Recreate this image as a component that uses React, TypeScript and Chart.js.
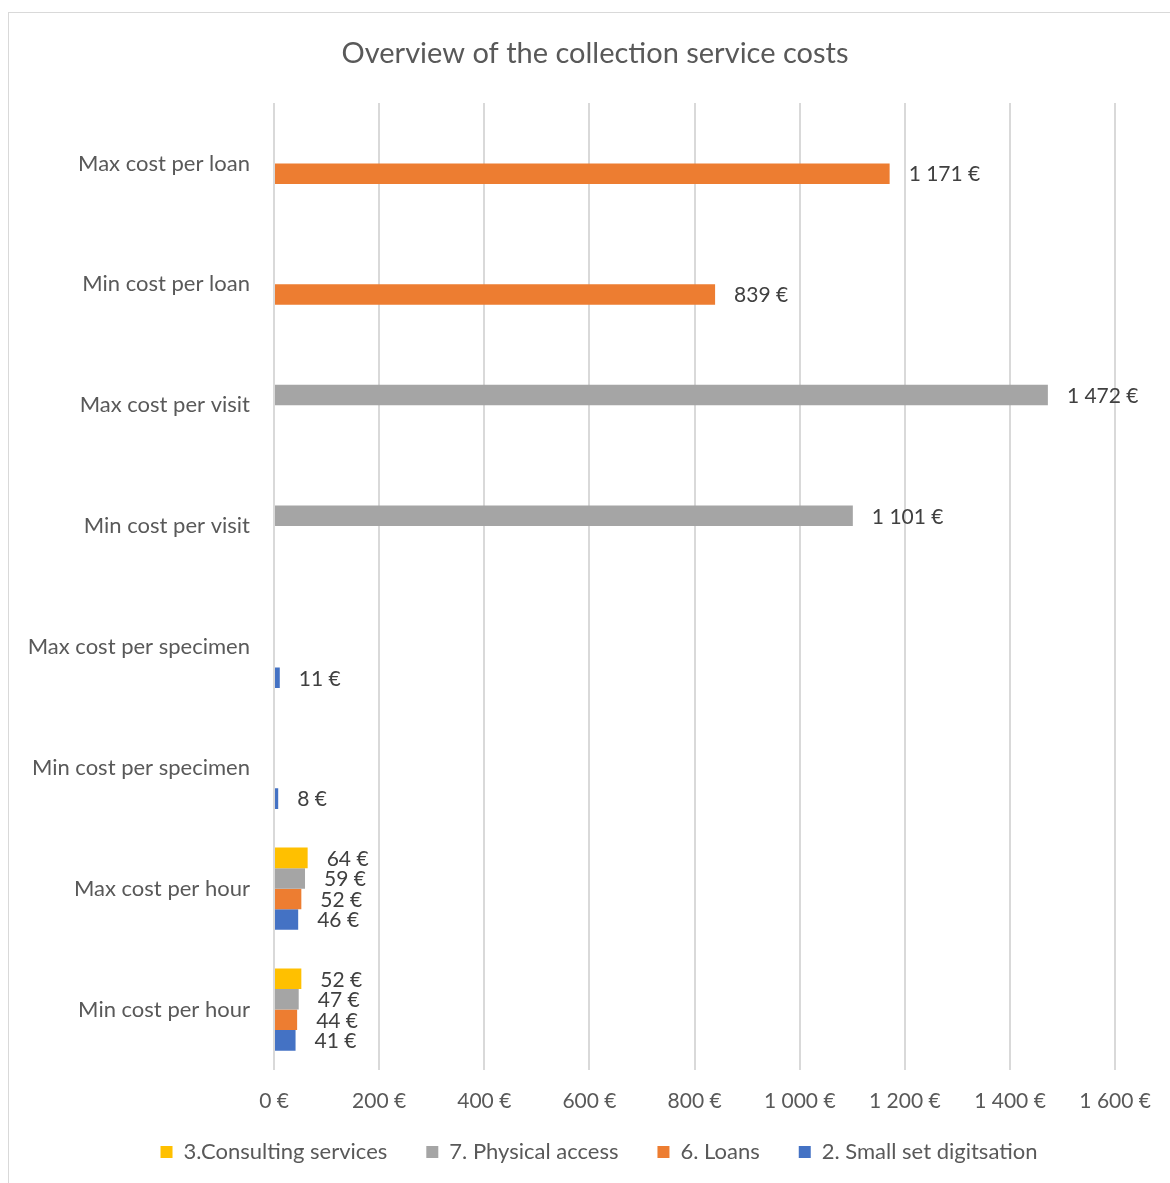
import React, { useEffect, useRef } from "react";
import { Chart, registerables } from "chart.js";

Chart.register(...registerables);

const chartTitle = "Overview of the collection service costs";
const categories = [
  "Max cost per loan",
  "Min cost per loan",
  "Max cost per visit",
  "Min cost per visit",
  "Max cost per specimen",
  "Min cost per specimen",
  "Max cost per hour",
  "Min cost per hour",
];
const seriesNames = [
  "3.Consulting services",
  "7. Physical access",
  "6. Loans",
  "2. Small set digitsation",
];
const seriesColors = ["#FFC000", "#A5A5A5", "#ED7D31", "#4472C4"];
const consultingValues = [null, null, null, null, null, null, 64, 52];
const physicalValues = [null, null, 1472, 1101, null, null, 59, 47];
const loansValues = [1171, 839, null, null, null, null, 52, 44];
const smallSetValues = [null, null, null, null, 11, 8, 46, 41];
const xMin = 0;
const xMax = 1600;
const xStep = 200;

const FONT = "Lato, 'Open Sans', sans-serif";
const LEGEND_PAD = 39;
const LEGEND_FONT = 22;

function fmtEuro(v: number): string {
  return String(v).replace(/\B(?=(\d{3})+(?!\d))/g, " ") + " €";
}

const decorPlugin = {
  id: "decor",
  afterLayout(chart: any) {
    const lg = chart.legend;
    if (lg) {
      const h = lg.bottom - lg.top;
      const newTop = 1152 - LEGEND_PAD - LEGEND_FONT / 2;
      lg.top = newTop;
      lg.bottom = newTop + h;
      lg.left += 41;
      lg.right += 41;
    }
  },
  beforeDraw(chart: any) {
    const ctx = chart.ctx;
    ctx.save();
    ctx.fillStyle = "#ffffff";
    ctx.fillRect(0, 0, chart.width, chart.height);
    ctx.strokeStyle = "#d9d9d9";
    ctx.lineWidth = 1;
    ctx.strokeRect(8.5, 12.5, chart.width + 20, chart.height + 20);
    ctx.restore();
  },
  afterDraw(chart: any) {
    const ctx = chart.ctx;
    ctx.save();
    ctx.font = `29px ${FONT}`;
    ctx.fillStyle = "#595959";
    ctx.textAlign = "center";
    ctx.textBaseline = "middle";
    ctx.fillText(chartTitle, 595, 54);
    ctx.restore();
  },
};

const labelPlugin = {
  id: "barLabels",
  afterDatasetsDraw(chart: any) {
    const ctx = chart.ctx;
    ctx.save();
    ctx.font = `21px ${FONT}`;
    ctx.fillStyle = "#404040";
    ctx.textAlign = "left";
    ctx.textBaseline = "middle";
    chart.data.datasets.forEach((ds: any, di: number) => {
      const meta = chart.getDatasetMeta(di);
      meta.data.forEach((bar: any, i: number) => {
        const v = ds.data[i];
        if (v === null || v === undefined) return;
        ctx.fillText(fmtEuro(v), bar.x + 19, bar.y + 1);
      });
    });
    ctx.restore();
  },
};

export default function App() {
  const ref = useRef<HTMLCanvasElement | null>(null);
  useEffect(() => {
    if (!ref.current) return;
    const seriesValues = [consultingValues, physicalValues, loansValues, smallSetValues];
    const chart = new Chart(ref.current, {
      type: "bar",
      data: {
        labels: categories,
        datasets: seriesNames.map((name, i) => ({
          label: name,
          data: seriesValues[i] as any,
          backgroundColor: seriesColors[i],
          borderWidth: 0,
          barPercentage: 1,
          categoryPercentage: 0.68,
        })),
      },
      options: {
        indexAxis: "y",
        responsive: false,
        animation: false,
        layout: { padding: { top: 103, left: 0, right: 54, bottom: 0 } },
        plugins: {
          title: { display: false },
          tooltip: { enabled: false },
          legend: {
            display: true,
            position: "bottom",
            labels: {
              boxWidth: 12,
              boxHeight: 12,
              padding: LEGEND_PAD,
              color: "#595959",
              font: { family: FONT, size: LEGEND_FONT },
            },
          },
        },
        scales: {
          x: {
            min: xMin,
            max: xMax,
            ticks: {
              stepSize: xStep,
              color: "#595959",
              font: { family: FONT, size: 21 },
              padding: 19,
              callback: (v: any) => fmtEuro(Number(v)),
              maxRotation: 0,
            },
            grid: { color: "#d9d9d9", lineWidth: 2, drawTicks: false },
            border: { display: false },
            afterFit: (s: any) => {
              s.height = 42;
            },
          },
          y: {
            ticks: {
              color: "#595959",
              font: { family: FONT, size: 22 },
              padding: 24,
            },
            grid: { display: false, drawTicks: false },
            border: { display: false },
            afterFit: (s: any) => {
              s.width = 274;
            },
          },
        },
      },
      plugins: [decorPlugin, labelPlugin],
    });
    return () => chart.destroy();
  }, []);
  return (
    <div style={{ position: "absolute", left: 0, top: 0, width: 1170, height: 1183, overflow: "hidden" }}>
      <canvas ref={ref} width={1170} height={1183} style={{ display: "block" }} />
    </div>
  );
}
